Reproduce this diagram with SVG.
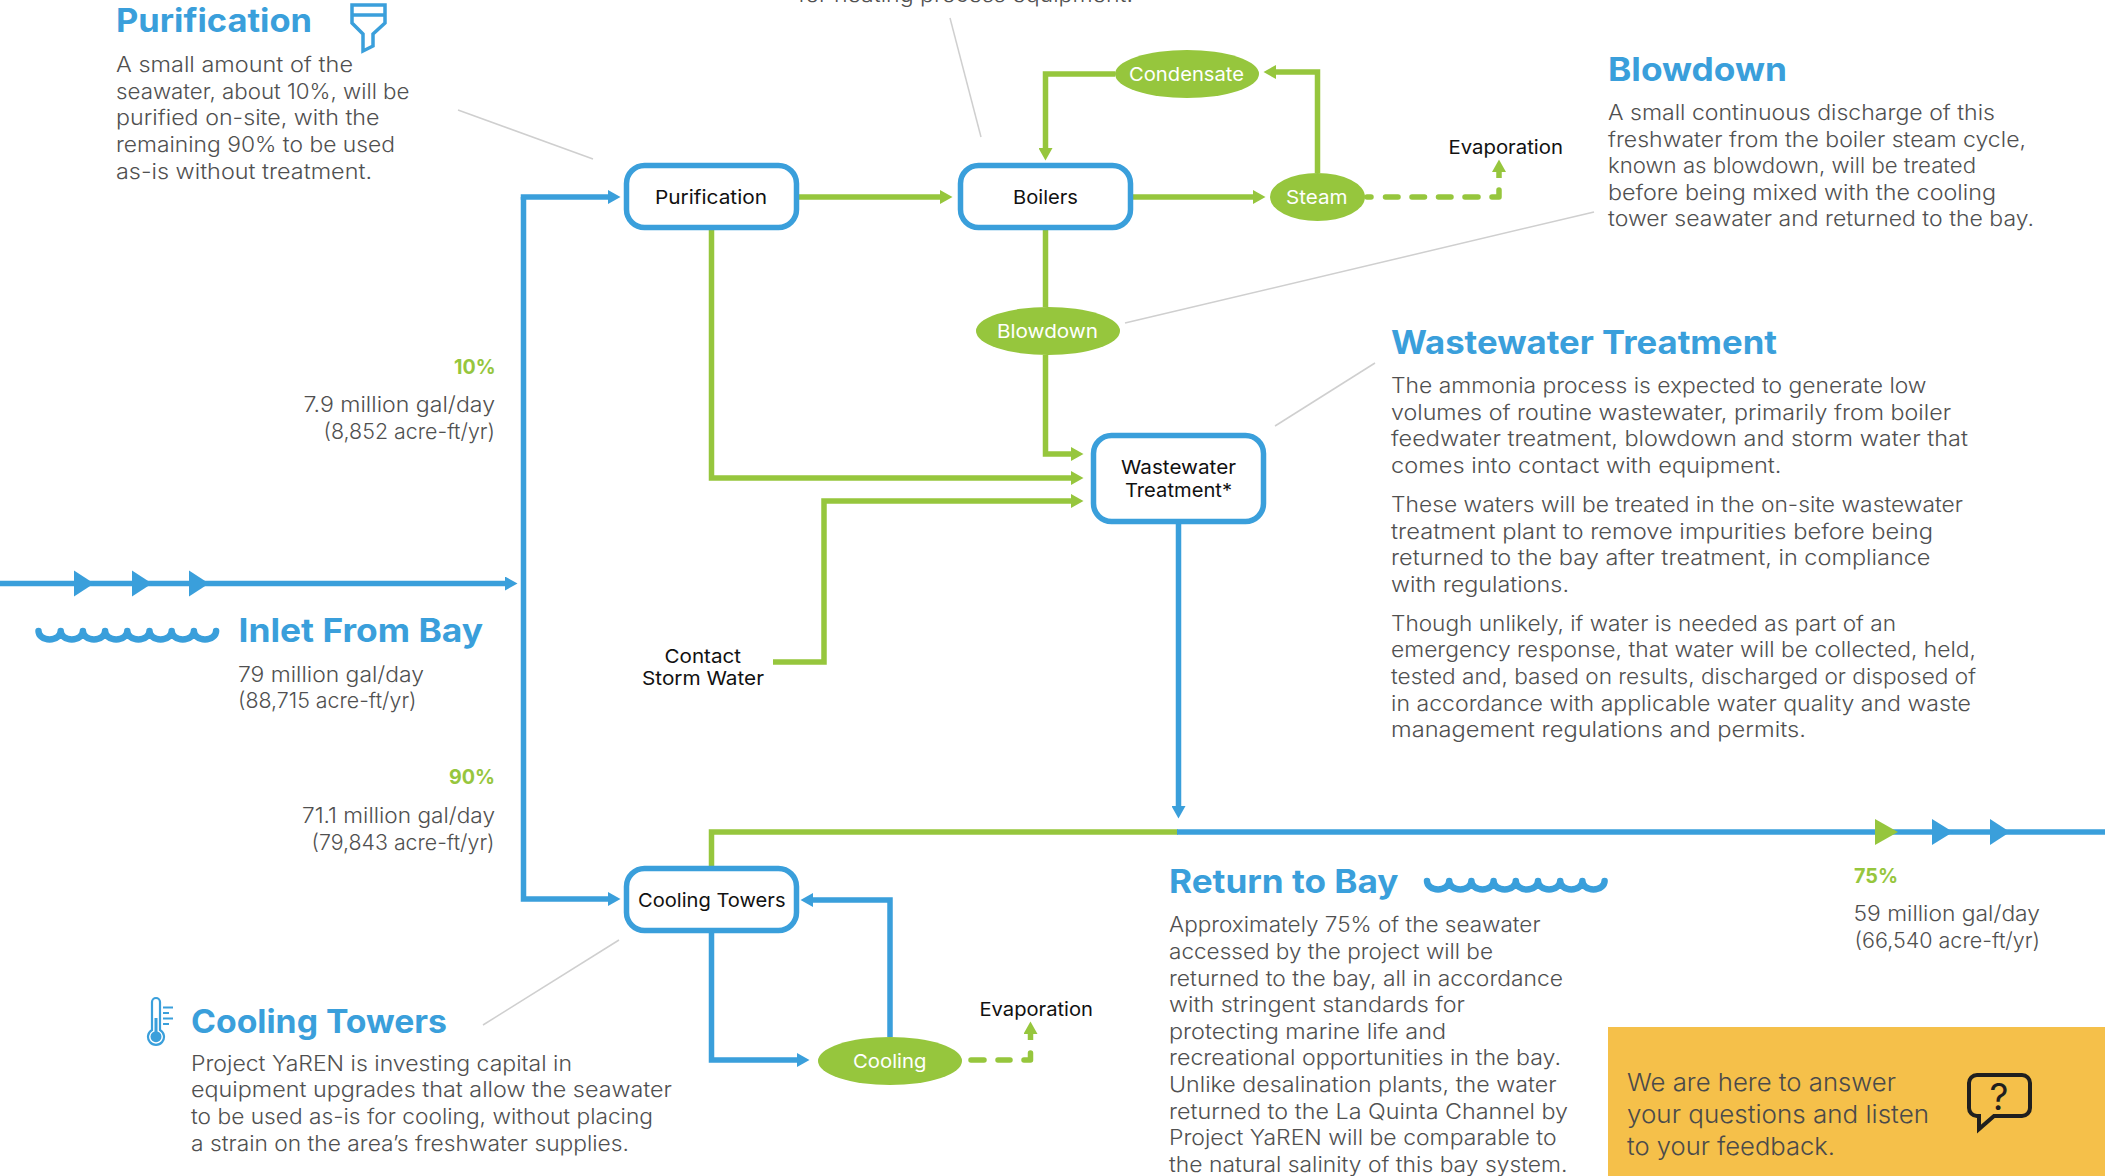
<svg xmlns="http://www.w3.org/2000/svg" width="2105" height="1176" viewBox="0 0 2105 1176">
<defs>
<style>
text{font-family:"Inter","Noto Sans","Liberation Sans",sans-serif}
.b{font-size:21.500px;font-weight:300;fill:#505050}
.h{font-size:32px;font-weight:700;fill:#3a9fdb}
.p{font-size:20px;font-weight:700;fill:#96c63d}
.n{font-size:19px;font-weight:400;fill:#111}
.w{font-size:19px;font-weight:400;fill:#fff}
.y{font-size:24.500px;font-weight:300;fill:#4a4a4a}
.box{fill:#fff;stroke:#3a9fdb;stroke-width:5.500}
.oval{fill:#96c63d}
.gl{fill:none;stroke:#96c63d;stroke-width:5.500}
.bl{fill:none;stroke:#3a9fdb;stroke-width:5.500}
.dash{fill:none;stroke:#96c63d;stroke-width:5.500;stroke-linecap:round;stroke-linejoin:round}
.sh{fill:none;stroke:#96c63d;stroke-width:5.500}
.lead{fill:none;stroke:#cfcfcf;stroke-width:1.500}
.ic{fill:none;stroke:#3a9fdb;stroke-width:3.500}
.th{fill:none;stroke:#3a9fdb;stroke-width:2.200}
.wave{fill:none;stroke:#3a9fdb;stroke-width:6.500;stroke-linecap:round;stroke-linejoin:round}
.tb{fill:#3a9fdb}
.tg{fill:#96c63d}
</style>
<marker id="ag" markerUnits="userSpaceOnUse" markerWidth="13" markerHeight="14" refX="1" refY="7" orient="auto" viewBox="0 0 13 14"><path d="M0,0L12.500,7L0,14Z" fill="#96c63d"/></marker>
<marker id="ab" markerUnits="userSpaceOnUse" markerWidth="13" markerHeight="14" refX="1" refY="7" orient="auto" viewBox="0 0 13 14"><path d="M0,0L12.500,7L0,14Z" fill="#3a9fdb"/></marker>
</defs>
<rect width="2105" height="1176" fill="#fff"/>

<g id="leaders">
<path class="lead" d="M458,110L593,159"/>
<path class="lead" d="M950,18L981,137"/>
<path class="lead" d="M1125,323L1594,212"/>
<path class="lead" d="M1375,363L1275,426"/>
<path class="lead" d="M619,940L483,1025"/>
</g>

<g id="connectors">
<path class="bl" d="M0,583.500H506" marker-end="url(#ab)"/>
<path class="bl" d="M523.500,197V899H609" marker-end="url(#ab)"/>
<path class="bl" d="M520.750,197H609" marker-end="url(#ab)"/>
<path class="gl" d="M799,197H941" marker-end="url(#ag)"/>
<path class="gl" d="M1132,197H1254" marker-end="url(#ag)"/>
<path class="gl" d="M1115,74H1045.500V149" marker-end="url(#ag)"/>
<path class="gl" d="M1317.500,173V72H1275" marker-end="url(#ag)"/>
<path class="dash" d="M1367,197H1371M1385.500,197H1398M1412,197H1424.500M1438.500,197H1451M1465,197H1478M1492,197H1499V190"/>
<path class="sh" d="M1499,178V171" marker-end="url(#ag)"/>
<path class="gl" d="M1045.500,230V307"/>
<path class="gl" d="M1045.500,355V454H1072" marker-end="url(#ag)"/>
<path class="gl" d="M711.500,230V478H1072" marker-end="url(#ag)"/>
<path class="gl" d="M773,662H824V501H1072" marker-end="url(#ag)"/>
<path class="bl" d="M1178.500,524V807" marker-end="url(#ab)"/>
<path class="gl" d="M711.500,866V832H1178"/>
<path class="bl" d="M1177,832H2105"/>
<path class="bl" d="M890,1037V900H812" marker-end="url(#ab)"/>
<path class="bl" d="M711.500,933V1060H798" marker-end="url(#ab)"/>
<path class="dash" d="M971,1060H984M998,1060H1010M1024,1060H1030.500V1053"/>
<path class="sh" d="M1030.500,1040V1033" marker-end="url(#ag)"/>
<polygon class="tb" points="74,570.500 94,583.500 74,596.500"/>
<polygon class="tb" points="132,570.500 152,583.500 132,596.500"/>
<polygon class="tb" points="189,570.500 209,583.500 189,596.500"/>
<polygon class="tg" points="1875,819 1898,832 1875,845"/>
<polygon class="tb" points="1932,819 1953,832 1932,845"/>
<polygon class="tb" points="1990,819 2010,832 1990,845"/>
</g>

<g id="node-purification"><rect class="box" x="626.500" y="165.500" width="170" height="62" rx="18"/><text class="n" x="655" y="204" textLength="112" lengthAdjust="spacingAndGlyphs">Purification</text></g>
<g id="node-boilers"><rect class="box" x="960.500" y="165.500" width="170" height="62" rx="18"/><text class="n" x="1013" y="204" textLength="65" lengthAdjust="spacingAndGlyphs">Boilers</text></g>
<g id="node-wastewater"><rect class="box" x="1093.500" y="435.500" width="170" height="86" rx="18"/><text class="n" x="1121" y="474" textLength="115" lengthAdjust="spacingAndGlyphs">Wastewater</text><text class="n" x="1125" y="497" textLength="107" lengthAdjust="spacingAndGlyphs">Treatment*</text></g>
<g id="node-cooling-towers"><rect class="box" x="626.500" y="868.500" width="170" height="62" rx="18"/><text class="n" x="638" y="907" textLength="147.500" lengthAdjust="spacingAndGlyphs">Cooling Towers</text></g>
<g id="node-condensate"><ellipse class="oval" cx="1187" cy="74" rx="72" ry="24"/><text class="w" x="1129" y="81" textLength="115" lengthAdjust="spacingAndGlyphs">Condensate</text></g>
<g id="node-steam"><ellipse class="oval" cx="1317.500" cy="197" rx="47.500" ry="24"/><text class="w" x="1286" y="204" textLength="61.500" lengthAdjust="spacingAndGlyphs">Steam</text></g>
<g id="node-blowdown"><ellipse class="oval" cx="1048" cy="331" rx="72" ry="24"/><text class="w" x="997" y="338" textLength="101" lengthAdjust="spacingAndGlyphs">Blowdown</text></g>
<g id="node-cooling"><ellipse class="oval" cx="890" cy="1061" rx="72" ry="24"/><text class="w" x="853" y="1068" textLength="73.500" lengthAdjust="spacingAndGlyphs">Cooling</text></g>
<g id="node-evaporation-1"><text class="n" x="1448.500" y="154" textLength="114.500" lengthAdjust="spacingAndGlyphs">Evaporation</text></g>
<g id="node-evaporation-2"><text class="n" x="979.500" y="1016" textLength="113.500" lengthAdjust="spacingAndGlyphs">Evaporation</text></g>
<g id="node-contact"><text class="n" x="664.500" y="663" textLength="76.500" lengthAdjust="spacingAndGlyphs">Contact</text><text class="n" x="642" y="685" textLength="122" lengthAdjust="spacingAndGlyphs">Storm Water</text></g>

<g id="note-purification">
<text class="h" x="116" y="32" textLength="196" lengthAdjust="spacingAndGlyphs">Purification</text>
<path class="ic" d="M352,5H385V23L373,34V46L363,51V34L352,23ZM352,15H385"/>
<text class="b" x="116" y="72" textLength="237" lengthAdjust="spacingAndGlyphs">A small amount of the</text>
<text class="b" x="116" y="98.500" textLength="293.500" lengthAdjust="spacingAndGlyphs">seawater, about 10%, will be</text>
<text class="b" x="116" y="125" textLength="263.500" lengthAdjust="spacingAndGlyphs">purified on-site, with the</text>
<text class="b" x="116" y="152" textLength="279" lengthAdjust="spacingAndGlyphs">remaining 90% to be used</text>
<text class="b" x="116" y="178.500" textLength="256" lengthAdjust="spacingAndGlyphs">as-is without treatment.</text>
</g>

<g id="note-boilers"><text class="b" x="798" y="2" textLength="335" lengthAdjust="spacingAndGlyphs">for heating process equipment.</text></g>

<g id="note-blowdown">
<text class="h" x="1608" y="81" textLength="179" lengthAdjust="spacingAndGlyphs">Blowdown</text>
<text class="b" x="1608" y="120" textLength="387" lengthAdjust="spacingAndGlyphs">A small continuous discharge of this</text>
<text class="b" x="1608" y="146.500" textLength="418" lengthAdjust="spacingAndGlyphs">freshwater from the boiler steam cycle,</text>
<text class="b" x="1608" y="173" textLength="368" lengthAdjust="spacingAndGlyphs">known as blowdown, will be treated</text>
<text class="b" x="1608" y="199.500" textLength="388" lengthAdjust="spacingAndGlyphs">before being mixed with the cooling</text>
<text class="b" x="1608" y="226" textLength="426" lengthAdjust="spacingAndGlyphs">tower seawater and returned to the bay.</text>
</g>

<g id="note-wastewater">
<text class="h" x="1391" y="354" textLength="386" lengthAdjust="spacingAndGlyphs">Wastewater Treatment</text>
<text class="b" x="1391" y="393" textLength="535.500" lengthAdjust="spacingAndGlyphs">The ammonia process is expected to generate low</text>
<text class="b" x="1391" y="420" textLength="560" lengthAdjust="spacingAndGlyphs">volumes of routine wastewater, primarily from boiler</text>
<text class="b" x="1391" y="446" textLength="577" lengthAdjust="spacingAndGlyphs">feedwater treatment, blowdown and storm water that</text>
<text class="b" x="1391" y="473" textLength="390.500" lengthAdjust="spacingAndGlyphs">comes into contact with equipment.</text>
<text class="b" x="1391" y="512" textLength="572" lengthAdjust="spacingAndGlyphs">These waters will be treated in the on-site wastewater</text>
<text class="b" x="1391" y="538.500" textLength="542" lengthAdjust="spacingAndGlyphs">treatment plant to remove impurities before being</text>
<text class="b" x="1391" y="565" textLength="539.500" lengthAdjust="spacingAndGlyphs">returned to the bay after treatment, in compliance</text>
<text class="b" x="1391" y="592" textLength="178" lengthAdjust="spacingAndGlyphs">with regulations.</text>
<text class="b" x="1391" y="630.500" textLength="505" lengthAdjust="spacingAndGlyphs">Though unlikely, if water is needed as part of an</text>
<text class="b" x="1391" y="657" textLength="585" lengthAdjust="spacingAndGlyphs">emergency response, that water will be collected, held,</text>
<text class="b" x="1391" y="684" textLength="585" lengthAdjust="spacingAndGlyphs">tested and, based on results, discharged or disposed of</text>
<text class="b" x="1391" y="710.500" textLength="580" lengthAdjust="spacingAndGlyphs">in accordance with applicable water quality and waste</text>
<text class="b" x="1391" y="737" textLength="415" lengthAdjust="spacingAndGlyphs">management regulations and permits.</text>
</g>

<g id="note-inlet">
<path class="wave" d="M38.500,631A11.100,8.500 0 0 0 60.700,631A11.100,8.500 0 0 0 82.900,631A11.100,8.500 0 0 0 105.100,631A11.100,8.500 0 0 0 127.300,631A11.100,8.500 0 0 0 149.500,631A11.100,8.500 0 0 0 171.700,631A11.100,8.500 0 0 0 193.900,631A11.100,8.500 0 0 0 216.100,631"/>
<text class="h" x="238.500" y="641.500" textLength="244.500" lengthAdjust="spacingAndGlyphs">Inlet From Bay</text>
<text class="b" x="238" y="681.500" textLength="186" lengthAdjust="spacingAndGlyphs">79 million gal/day</text>
<text class="b" x="238" y="708" textLength="178.500" lengthAdjust="spacingAndGlyphs">(88,715 acre-ft/yr)</text>
</g>

<g id="note-10">
<text class="p" x="454" y="374" textLength="41.500" lengthAdjust="spacingAndGlyphs">10%</text>
<text class="b" x="303.500" y="412" textLength="191.500" lengthAdjust="spacingAndGlyphs">7.9 million gal/day</text>
<text class="b" x="323.500" y="439" textLength="171.500" lengthAdjust="spacingAndGlyphs">(8,852 acre-ft/yr)</text>
</g>

<g id="note-90">
<text class="p" x="449" y="784" textLength="46" lengthAdjust="spacingAndGlyphs">90%</text>
<text class="b" x="302" y="822.500" textLength="193" lengthAdjust="spacingAndGlyphs">71.1 million gal/day</text>
<text class="b" x="311.500" y="849.500" textLength="183" lengthAdjust="spacingAndGlyphs">(79,843 acre-ft/yr)</text>
</g>

<g id="note-cooling">
<path class="th" d="M152,1030V1002A4,4 0 0 1 160,1002V1030A8,8 0 1 1 152,1030Z"/>
<circle class="tb" cx="156" cy="1036.700" r="5.500"/>
<rect class="tb" x="154.500" y="1018" width="3" height="14"/>
<path class="th" d="M163,1007.500H173M163,1013H169M163,1018.500H173M163,1024H169"/>
<text class="h" x="191" y="1032.500" textLength="256" lengthAdjust="spacingAndGlyphs">Cooling Towers</text>
<text class="b" x="191" y="1070.500" textLength="381" lengthAdjust="spacingAndGlyphs">Project YaREN is investing capital in</text>
<text class="b" x="191" y="1097" textLength="481" lengthAdjust="spacingAndGlyphs">equipment upgrades that allow the seawater</text>
<text class="b" x="191" y="1124" textLength="462" lengthAdjust="spacingAndGlyphs">to be used as-is for cooling, without placing</text>
<text class="b" x="191" y="1150.500" textLength="438" lengthAdjust="spacingAndGlyphs">a strain on the area’s freshwater supplies.</text>
</g>

<g id="note-return">
<text class="h" x="1169" y="892.500" textLength="229.500" lengthAdjust="spacingAndGlyphs">Return to Bay</text>
<path class="wave" d="M1427,881A11.100,8.500 0 0 0 1449.200,881A11.100,8.500 0 0 0 1471.400,881A11.100,8.500 0 0 0 1493.600,881A11.100,8.500 0 0 0 1515.800,881A11.100,8.500 0 0 0 1538,881A11.100,8.500 0 0 0 1560.200,881A11.100,8.500 0 0 0 1582.400,881A11.100,8.500 0 0 0 1604.600,881"/>
<text class="b" x="1169" y="932" textLength="371.500" lengthAdjust="spacingAndGlyphs">Approximately 75% of the seawater</text>
<text class="b" x="1169" y="958.500" textLength="324" lengthAdjust="spacingAndGlyphs">accessed by the project will be</text>
<text class="b" x="1169" y="985.500" textLength="394" lengthAdjust="spacingAndGlyphs">returned to the bay, all in accordance</text>
<text class="b" x="1169" y="1012" textLength="296" lengthAdjust="spacingAndGlyphs">with stringent standards for</text>
<text class="b" x="1169" y="1038.500" textLength="277" lengthAdjust="spacingAndGlyphs">protecting marine life and</text>
<text class="b" x="1169" y="1065" textLength="392" lengthAdjust="spacingAndGlyphs">recreational opportunities in the bay.</text>
<text class="b" x="1169" y="1092" textLength="387.500" lengthAdjust="spacingAndGlyphs">Unlike desalination plants, the water</text>
<text class="b" x="1169" y="1118.500" textLength="399" lengthAdjust="spacingAndGlyphs">returned to the La Quinta Channel by</text>
<text class="b" x="1169" y="1145" textLength="387.500" lengthAdjust="spacingAndGlyphs">Project YaREN will be comparable to</text>
<text class="b" x="1169" y="1172" textLength="398.500" lengthAdjust="spacingAndGlyphs">the natural salinity of this bay system.</text>
</g>

<g id="note-75">
<text class="p" x="1854" y="883" textLength="44" lengthAdjust="spacingAndGlyphs">75%</text>
<text class="b" x="1853.500" y="921" textLength="186.500" lengthAdjust="spacingAndGlyphs">59 million gal/day</text>
<text class="b" x="1854.500" y="948" textLength="185.500" lengthAdjust="spacingAndGlyphs">(66,540 acre-ft/yr)</text>
</g>

<g id="feedback">
<rect x="1608" y="1027" width="497" height="149" fill="#f5c04a"/>
<text class="y" x="1627" y="1091" textLength="269" lengthAdjust="spacingAndGlyphs">We are here to answer</text>
<text class="y" x="1627" y="1123" textLength="302" lengthAdjust="spacingAndGlyphs">your questions and listen</text>
<text class="y" x="1627" y="1155" textLength="208" lengthAdjust="spacingAndGlyphs">to your feedback.</text>
<path d="M1977,1075H2022A8,8 0 0 1 2030,1083V1108A8,8 0 0 1 2022,1116H1994L1979,1129V1116H1977A8,8 0 0 1 1969,1108V1083A8,8 0 0 1 1977,1075Z" fill="none" stroke="#1f1f1f" stroke-width="4"/>
<text x="1999" y="1110" text-anchor="middle" style="font-size:37px;font-weight:400;fill:#1f1f1f">?</text>
</g>
</svg>
